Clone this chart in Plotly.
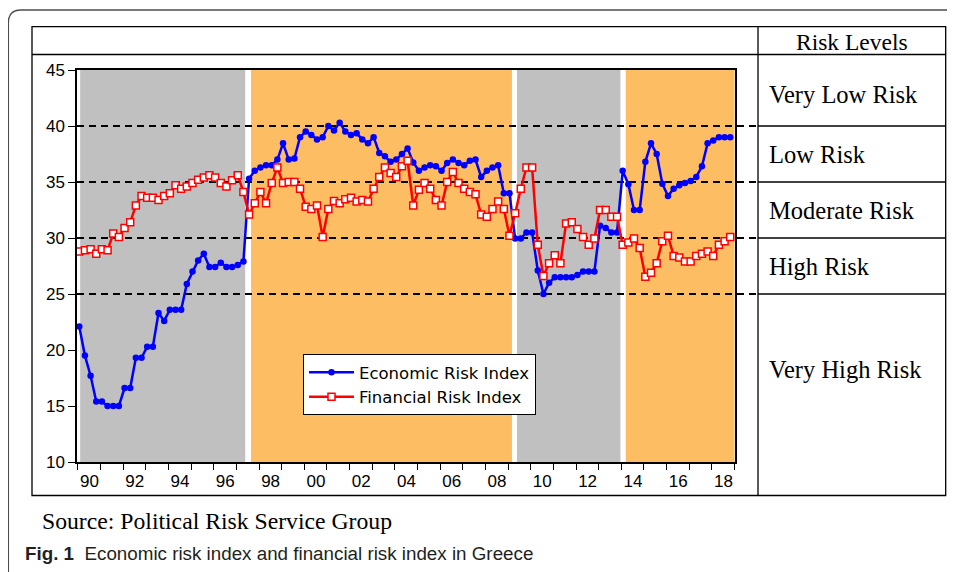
import plotly.graph_objects as go

# ---------------- data (quarterly, 1990Q1 - 2018Q4) ----------------
start_year = 1990

economic_risk = [
    22.1, 19.5, 17.7, 15.4, 15.4, 15.0, 15.0, 15.0,    # 1990-91
    16.6, 16.6, 19.3, 19.3, 20.3, 20.3, 23.3, 22.6,    # 1992-93
    23.6, 23.6, 23.6, 25.9, 27.0, 28.0, 28.6, 27.4,    # 1994-95
    27.4, 27.8, 27.4, 27.4, 27.6, 27.9, 35.3, 36.0,    # 1996-97
    36.3, 36.5, 36.5, 37.0, 38.45, 37.0, 37.1, 39.0,   # 1998-99
    39.5, 39.2, 38.8, 39.0, 40.0, 39.6, 40.3, 39.5,    # 2000-01
    39.2, 39.35, 38.8, 38.45, 39.0, 37.6, 37.3, 36.8,  # 2002-03
    37.0, 37.5, 38.0, 36.75, 36.0, 36.3, 36.5, 36.4,   # 2004-05
    36.0, 36.7, 37.0, 36.7, 36.5, 36.9, 37.0, 35.45,   # 2006-07
    36.0, 36.3, 36.5, 34.0, 34.0, 29.95, 29.95, 30.5,  # 2008-09
    30.5, 27.1, 25.0, 26.0, 26.5, 26.5, 26.5, 26.5,    # 2010-11
    26.7, 27.0, 27.0, 27.0, 31.1, 30.9, 30.5, 30.5,    # 2012-13
    36.0, 34.8, 32.5, 32.5, 36.8, 38.45, 37.5, 34.85,  # 2014-15
    33.75, 34.4, 34.7, 34.9, 35.1, 35.45, 36.4, 38.45, # 2016-17
    38.7, 39.0, 39.0, 39.0,                            # 2018
]

financial_risk = [
    28.8, 28.9, 29.0, 28.6, 29.0, 28.9, 30.4, 30.1,    # 1990-91
    30.9, 31.4, 32.9, 33.75, 33.6, 33.6, 33.4, 33.75,  # 1992-93
    34.0, 34.7, 34.4, 34.6, 34.9, 35.2, 35.4, 35.6,    # 1994-95
    35.4, 34.9, 34.6, 35.15, 35.6, 34.1, 32.1, 33.1,   # 1996-97
    34.1, 33.1, 34.9, 36.3, 34.9, 35.0, 35.0, 34.4,    # 1998-99
    32.8, 32.6, 32.9, 30.1, 32.6, 33.3, 33.1, 33.45,   # 2000-01
    33.6, 33.25, 33.4, 33.25, 34.4, 35.45, 36.3, 35.8, # 2002-03
    35.45, 36.4, 36.9, 32.9, 34.3, 34.9, 34.4, 33.4,   # 2004-05
    32.9, 35.0, 35.9, 34.9, 34.4, 34.1, 33.9, 32.1,    # 2006-07
    31.9, 32.6, 33.25, 32.6, 30.2, 32.2, 34.4, 36.3,   # 2008-09
    36.3, 29.4, 26.6, 27.75, 28.45, 27.75, 31.3, 31.4, # 2010-11
    30.8, 30.1, 29.4, 29.95, 32.5, 32.5, 31.9, 31.9,   # 2012-13
    29.4, 29.6, 29.95, 29.1, 26.55, 26.9, 27.75, 29.7, # 2014-15
    30.2, 28.4, 28.25, 27.9, 27.9, 28.4, 28.6, 28.8,   # 2016-17
    28.4, 29.4, 29.7, 30.1,                            # 2018
]

# risk level boundaries and names (top to bottom)
risk_thresholds = [40, 35, 30, 25]
risk_levels = ["Very Low Risk", "Low Risk", "Moderate Risk", "High Risk", "Very High Risk"]

# shaded periods (start, end, kind)
regimes = [
    (1990.04, 1997.33, "grey"),
    (1997.585, 2009.11, "orange"),
    (2009.33, 2013.90, "grey"),
    (2014.135, 2018.94, "orange"),
]

year_labels = ["90", "92", "94", "96", "98", "00", "02", "04",
               "06", "08", "10", "12", "14", "16", "18"]

# ---------------- style ----------------
colors = {
    "econ": "#0000FF",
    "fin": "#FF0000",
    "grey": "#C0C0C0",
    "orange": "#FDBE63",
}
sans = "Arial, Liberation Sans, sans-serif"
serif = "Times New Roman, Liberation Serif, serif"

# plot area in page pixels (955 x 572 window)
L, R, T, B = 77, 735, 70, 462
# the page body has an 8px margin, so the figure is drawn 8px in
OFF = 8


def px(x):
    return (x - L) / (R - L)


def py(y):
    return (B - y) / (B - T)


quarters = [start_year + i / 4 for i in range(len(economic_risk))]

fig = go.Figure()

fig.add_trace(go.Scatter(
    x=quarters, y=economic_risk, name="Economic Risk Index",
    mode="lines+markers",
    line=dict(color=colors["econ"], width=2.5),
    marker=dict(symbol="circle", size=6.5, color=colors["econ"]),
))
fig.add_trace(go.Scatter(
    x=quarters, y=financial_risk, name="Financial Risk Index",
    mode="lines+markers",
    line=dict(color=colors["fin"], width=2.5),
    marker=dict(symbol="square", size=7, color="white",
                line=dict(color=colors["fin"], width=1.5)),
))

shapes = []
# background regimes
for x0, x1, kind in regimes:
    shapes.append(dict(type="rect", xref="x", yref="paper", x0=x0, x1=x1, y0=0, y1=1,
                       fillcolor=colors[kind], line=dict(width=0), layer="below"))
# dashed risk boundaries, running out to the table column
for t in risk_thresholds:
    shapes.append(dict(type="line", xref="paper", yref="y", x0=0, x1=px(758), y0=t, y1=t,
                       line=dict(color="black", width=2.2, dash="7px,5px"), layer="below"))
    shapes.append(dict(type="line", xref="paper", yref="y", x0=px(758), x1=px(945.7), y0=t, y1=t,
                       line=dict(color="black", width=1.3)))
# table frame
shapes += [
    dict(type="rect", xref="paper", yref="paper", x0=px(32), x1=px(945.7), y0=py(495.5), y1=py(26.7),
         line=dict(color="black", width=1.3)),
    dict(type="line", xref="paper", yref="paper", x0=px(32), x1=px(945.7), y0=py(54.5), y1=py(54.5),
         line=dict(color="black", width=1.3)),
    dict(type="line", xref="paper", yref="paper", x0=px(758), x1=px(758), y0=py(495.5), y1=py(26.7),
         line=dict(color="black", width=1.3)),
]
# rounded page frame (top-left corner)
shapes.append(dict(
    type="path", xref="paper", yref="paper",
    path=f"M {px(8.3)},{py(580)} L {px(8.3)},{py(23)} Q {px(8.3)},{py(10)} {px(21)},{py(10)} L {px(960)},{py(10)}",
    line=dict(color="#4D4D4D", width=1.5),
))

annotations = [
    dict(text="Risk Levels", xref="paper", yref="paper", x=px(852), y=py(41.5),
         xanchor="center", yanchor="middle", showarrow=False,
         font=dict(family=serif, size=23.5, color="black")),
    dict(text="Source: Political Risk Service Group", xref="paper", yref="paper",
         x=px(40), y=py(521), xanchor="left", yanchor="middle", showarrow=False,
         font=dict(family=serif, size=23.7, color="black")),
    dict(text="<b>Fig. 1</b>  Economic risk index and financial risk index in Greece",
         xref="paper", yref="paper", x=px(23), y=py(553), xanchor="left", yanchor="middle",
         showarrow=False, font=dict(family=sans, size=18.8, color="#231F20")),
]
label_y = [42.85, 37.5, 32.5, 27.5, 18.3]
for name, yv in zip(risk_levels, label_y):
    annotations.append(dict(text=name, xref="paper", yref="y", x=px(767), y=yv,
                            xanchor="left", yanchor="middle", showarrow=False,
                            font=dict(family=serif, size=24.5, color="black")))

fig.update_layout(
    width=955 - OFF, height=572 - OFF, autosize=False,
    margin=dict(l=L - OFF, r=955 - R, t=T - OFF, b=572 - B, pad=0),
    paper_bgcolor="white", plot_bgcolor="white",
    font=dict(family=sans, size=17, color="black"),
    shapes=shapes, annotations=annotations,
    legend=dict(x=px(303), y=py(354), xanchor="left", yanchor="top",
                bgcolor="white", bordercolor="black", borderwidth=1,
                font=dict(family="DejaVu Sans, sans-serif", size=16.5, color="black"),
                itemwidth=45, tracegroupgap=0),
    hovermode=False,
)

fig.update_xaxes(
    range=[1989.90, 2018.96],
    tickmode="array",
    tickvals=[start_year + 2 * k + 0.45 for k in range(len(year_labels))],
    ticktext=year_labels,
    ticks="outside", ticklen=3, tickcolor="rgba(0,0,0,0)",
    minor=dict(tickmode="array", tickvals=[start_year - 0.06 + k for k in range(30)],
               ticks="outside", ticklen=6, tickwidth=1.3, tickcolor="black", showgrid=False),
    showline=True, linecolor="black", linewidth=1.5, mirror=True,
    showgrid=False, zeroline=False,
    tickfont=dict(family=sans, size=17, color="black"),
)
fig.update_yaxes(
    range=[10, 45], tick0=10, dtick=5,
    ticks="outside", ticklen=7, tickwidth=1.3, tickcolor="black",
    showline=True, linecolor="black", linewidth=1.5, mirror=True,
    showgrid=False, zeroline=False,
    tickfont=dict(family=sans, size=17, color="black"),
)

fig.write_html("out.html")
